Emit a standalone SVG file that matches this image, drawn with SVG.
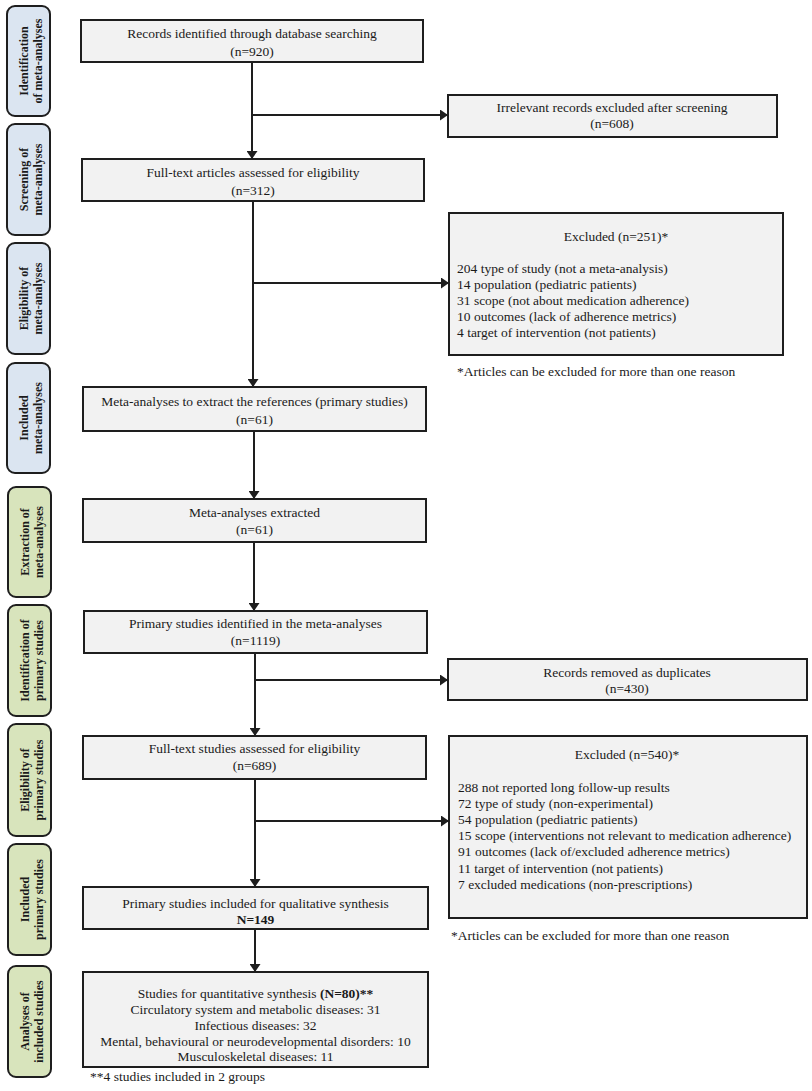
<svg xmlns="http://www.w3.org/2000/svg" width="812" height="1091" viewBox="0 0 812 1091">
<style>
text{font-family:"Liberation Serif","Times New Roman",serif;font-size:13.5px;fill:#1a1a1a}
.c{text-anchor:middle}
.b{font-weight:bold}
.box{fill:#f2f2f2;stroke:#1e1e1e;stroke-width:2}
.sb{fill:#dbe5f1;stroke:#1e1e1e;stroke-width:2}
.sg{fill:#d8e4bc;stroke:#1e1e1e;stroke-width:2}
.side{font-weight:bold;text-anchor:middle;font-size:12px}
.ln{stroke:#1e1e1e;stroke-width:2;fill:none}
.arr{marker-end:url(#ah)}
</style>
<defs>
<marker id="ah" viewBox="0 0 8 11" refX="8" refY="5.5" markerWidth="8" markerHeight="11" markerUnits="userSpaceOnUse" orient="auto">
<path d="M0,0 L8,5.5 L0,11 z" fill="#1e1e1e"/>
</marker>
</defs>
<rect width="812" height="1091" fill="#ffffff"/>

<g id="side1"><rect class="sb" x="7" y="6" width="43" height="110" rx="8"/>
<text class="side" transform="translate(28,61) rotate(-90)">Identification</text>
<text class="side" transform="translate(42,61) rotate(-90)">of meta-analyses</text></g>
<g id="side2"><rect class="sb" x="7" y="124" width="43" height="111" rx="8"/>
<text class="side" transform="translate(28,179.5) rotate(-90)">Screening of</text>
<text class="side" transform="translate(42,179.5) rotate(-90)">meta-analyses</text></g>
<g id="side3"><rect class="sb" x="7" y="243" width="43" height="111" rx="8"/>
<text class="side" transform="translate(28,298.5) rotate(-90)">Eligibility of</text>
<text class="side" transform="translate(42,298.5) rotate(-90)">meta-analyses</text></g>
<g id="side4"><rect class="sb" x="7" y="363" width="43" height="110" rx="8"/>
<text class="side" transform="translate(28,418) rotate(-90)">Included</text>
<text class="side" transform="translate(42,418) rotate(-90)">meta-analyses</text></g>
<g id="side5"><rect class="sg" x="8" y="487" width="43" height="110" rx="8"/>
<text class="side" transform="translate(29,542) rotate(-90)">Extraction of</text>
<text class="side" transform="translate(43,542) rotate(-90)">meta-analyses</text></g>
<g id="side6"><rect class="sg" x="8" y="605" width="43" height="111" rx="8"/>
<text class="side" transform="translate(29,660.5) rotate(-90)">Identification of</text>
<text class="side" transform="translate(43,660.5) rotate(-90)">primary studies</text></g>
<g id="side7"><rect class="sg" x="8" y="724" width="43" height="112" rx="8"/>
<text class="side" transform="translate(29,780) rotate(-90)">Eligibility of</text>
<text class="side" transform="translate(43,780) rotate(-90)">primary studies</text></g>
<g id="side8"><rect class="sg" x="8" y="844" width="43" height="111" rx="8"/>
<text class="side" transform="translate(29,899.5) rotate(-90)">Included</text>
<text class="side" transform="translate(43,899.5) rotate(-90)">primary studies</text></g>
<g id="side9"><rect class="sg" x="8" y="966" width="43" height="111" rx="8"/>
<text class="side" transform="translate(29,1021.5) rotate(-90)">Analyses of</text>
<text class="side" transform="translate(43,1021.5) rotate(-90)">included studies</text></g>

<g id="connectors">
<line class="ln arr" x1="252" y1="62" x2="252" y2="159"/>
<line class="ln arr" x1="252" y1="115" x2="448" y2="115"/>
<line class="ln arr" x1="253" y1="201" x2="253" y2="387"/>
<line class="ln arr" x1="253" y1="283" x2="449" y2="283"/>
<line class="ln arr" x1="254" y1="431" x2="254" y2="499"/>
<line class="ln arr" x1="254" y1="542" x2="254" y2="611"/>
<line class="ln arr" x1="255" y1="653" x2="255" y2="736"/>
<line class="ln arr" x1="255" y1="680" x2="448" y2="680"/>
<line class="ln arr" x1="255" y1="779" x2="255" y2="887"/>
<line class="ln arr" x1="255" y1="821" x2="449" y2="821"/>
<line class="ln arr" x1="255" y1="929" x2="255" y2="972"/>
</g>

<g id="n1"><rect class="box" x="81" y="20" width="342" height="42"/>
<text class="c" x="252" y="38">Records identified through database searching</text>
<text class="c" x="252" y="56">(n=920)</text></g>
<g id="n2"><rect class="box" x="448" y="95" width="329" height="42"/>
<text class="c" x="612" y="112">Irrelevant records excluded after screening</text>
<text class="c" x="612" y="128">(n=608)</text></g>
<g id="n3"><rect class="box" x="82" y="159" width="342" height="42"/>
<text class="c" x="253" y="177">Full-text articles assessed for eligibility</text>
<text class="c" x="253" y="195">(n=312)</text></g>
<g id="n4"><rect class="box" x="449" y="213" width="334" height="142"/>
<text class="c" x="616" y="241">Excluded (n=251)*</text>
<text x="457" y="273">204 type of study (not a meta-analysis)</text>
<text x="457" y="289">14 population (pediatric patients)</text>
<text x="457" y="305">31 scope (not about medication adherence)</text>
<text x="457" y="321">10 outcomes (lack of adherence metrics)</text>
<text x="457" y="337">4 target of intervention (not patients)</text></g>
<g id="note1"><text x="457" y="376">*Articles can be excluded for more than one reason</text></g>
<g id="n5"><rect class="box" x="83" y="387" width="343" height="44"/>
<text class="c" x="254.5" y="406">Meta-analyses to extract the references (primary studies)</text>
<text class="c" x="254.5" y="424">(n=61)</text></g>
<g id="n6"><rect class="box" x="83" y="499" width="343" height="43"/>
<text class="c" x="254.5" y="517">Meta-analyses extracted</text>
<text class="c" x="254.5" y="534">(n=61)</text></g>
<g id="n7"><rect class="box" x="84" y="611" width="343" height="42"/>
<text class="c" x="255.5" y="628">Primary studies identified in the meta-analyses</text>
<text class="c" x="255.5" y="645">(n=1119)</text></g>
<g id="n8"><rect class="box" x="448" y="659" width="359" height="41"/>
<text class="c" x="627" y="677">Records removed as duplicates</text>
<text class="c" x="627" y="693">(n=430)</text></g>
<g id="n9"><rect class="box" x="83" y="736" width="343" height="43"/>
<text class="c" x="254.5" y="753">Full-text studies assessed for eligibility</text>
<text class="c" x="254.5" y="770">(n=689)</text></g>
<g id="n10"><rect class="box" x="449" y="736" width="358" height="182"/>
<text class="c" x="627" y="759">Excluded (n=540)*</text>
<text x="458" y="792">288 not reported long follow-up results</text>
<text x="458" y="808">72 type of study (non-experimental)</text>
<text x="458" y="824">54 population (pediatric patients)</text>
<text x="458" y="840">15 scope (interventions not relevant to medication adherence)</text>
<text x="458" y="856">91 outcomes (lack of/excluded adherence metrics)</text>
<text x="458" y="873">11 target of intervention (not patients)</text>
<text x="458" y="889">7 excluded medications (non-prescriptions)</text></g>
<g id="note2"><text x="451" y="940">*Articles can be excluded for more than one reason</text></g>
<g id="n11"><rect class="box" x="83" y="887" width="345" height="42"/>
<text class="c" x="255.5" y="908">Primary studies included for qualitative synthesis</text>
<text class="c b" x="255.5" y="924">N=149</text></g>
<g id="n12"><rect class="box" x="83" y="972" width="345" height="95"/>
<text class="c" x="255.5" y="998">Studies for quantitative synthesis <tspan class="b">(N=80)**</tspan></text>
<text class="c" x="255.5" y="1014">Circulatory system and metabolic diseases: 31</text>
<text class="c" x="255.5" y="1030">Infectious diseases: 32</text>
<text class="c" x="255.5" y="1046">Mental, behavioural or neurodevelopmental disorders: 10</text>
<text class="c" x="255.5" y="1061">Musculoskeletal diseases: 11</text></g>
<g id="note3"><text x="90" y="1081">**4 studies included in 2 groups</text></g>
</svg>
